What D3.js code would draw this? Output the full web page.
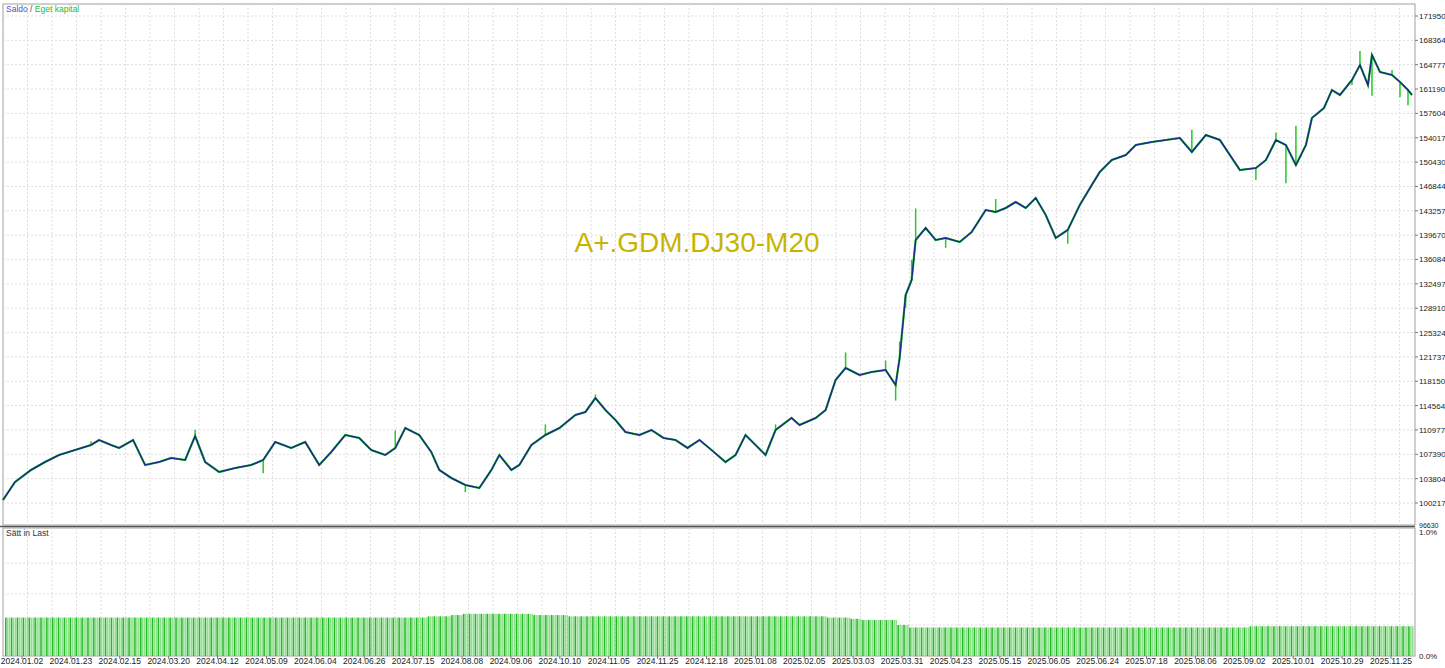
<!DOCTYPE html>
<html><head><meta charset="utf-8">
<script src="https://cdn.jsdelivr.net/npm/d3@7"></script>
<style>body{margin:0;background:#fff}svg{display:block;font-family:"Liberation Sans",Arial,sans-serif}</style>
</head><body><svg id="c" width="1445" height="668"></svg>
<script>
// trading day of each sampled balance point
const tradingDay=[0,6,14,21,28,36,44,48,54,58,65,71,78,84,91,96,101,108,116,124,130,136,144,151,158,164,171,178,184,191,196,201,208,214,218,224,231,238,244,248,254,258,264,271,278,286,291,296,301,306,311,318,324,330,336,342,348,354,361,366,371,376,381,386,394,398,406,411,416,421,428,434,441,446,448,451,454,456,461,466,471,478,484,491,496,501,506,511,516,521,526,532,538,544,548,554,561,566,574,581,588,594,601,608,614,618,626,631,636,641,646,651,654,660,664,668,674,678,682,684,688,694,698,702,704];
const balance=[100659,103310,105078,106256,107287,108024,108760,109497,108760,108319,109497,105814,106256,106846,106551,110086,106256,104783,105373,105814,106551,109202,108319,109202,105814,107729,110233,109792,108024,107287,108319,111265,110233,107729,105078,103900,102868,102427,105078,107287,105078,105814,108760,110233,111265,113179,113621,115684,113916,112443,110675,110233,110970,109792,109497,108319,109497,108024,106256,107287,110233,108760,107287,110970,112738,111706,112738,113916,118335,120103,119071,119513,119808,117598,121576,130855,133065,138957,140725,138957,139252,138662,140135,143376,143081,143671,144554,143671,145144,142639,139252,140430,144112,147058,148973,150741,151477,152950,153393,153687,153982,151919,154423,153687,151036,149266,149563,150741,153687,152950,149984,152950,156928,158401,161052,160315,162525,164733,161788,166207,163704,163262,162231,161052,160315];
// equity excursions: [index into balance, equity value]
const equitySpikes=[[6,109300],[15,111000],[20,104600],[30,110900],[36,101800],[43,111800],[47,116200],[63,111800],[69,122400],[72,121200],[73,115300],[74,124000],[75,129000],[76,136000],[77,143600],[80,137800],[84,145000],[91,138400],[101,155200],[106,147800],[108,154800],[109,147300],[110,155800],[116,161800],[117,166800],[119,160200],[121,164000],[122,160000],[123,158800]];
const marginLoad=[0.31,0.31,0.31,0.31,0.31,0.31,0.31,0.31,0.31,0.31,0.31,0.31,0.31,0.31,0.31,0.31,0.31,0.31,0.31,0.31,0.31,0.31,0.31,0.31,0.31,0.31,0.31,0.31,0.31,0.31,0.31,0.31,0.31,0.31,0.31,0.31,0.32,0.32,0.33,0.34,0.34,0.34,0.34,0.34,0.34,0.33,0.33,0.33,0.32,0.32,0.32,0.32,0.32,0.32,0.32,0.32,0.32,0.32,0.32,0.32,0.32,0.32,0.32,0.32,0.32,0.32,0.32,0.32,0.32,0.32,0.31,0.31,0.30,0.29,0.29,0.29,0.25,0.23,0.23,0.23,0.23,0.23,0.23,0.23,0.23,0.23,0.23,0.23,0.23,0.23,0.23,0.23,0.23,0.23,0.23,0.23,0.23,0.23,0.23,0.23,0.23,0.23,0.23,0.23,0.23,0.23,0.24,0.24,0.24,0.24,0.24,0.24,0.24,0.24,0.24,0.24,0.24,0.24,0.24,0.24];
const yTicks=[171950,168364,164777,161190,157604,154017,150430,146844,143257,139670,136084,132497,128910,125324,121737,118150,114564,110977,107390,103804,100217,96630];
const dateLabels=["2024.01.02","2024.01.23","2024.02.15","2024.03.20","2024.04.12","2024.05.09","2024.06.04","2024.06.26","2024.07.15","2024.08.08","2024.09.06","2024.10.10","2024.11.05","2024.11.25","2024.12.18","2025.01.08","2025.02.05","2025.03.03","2025.03.31","2025.04.23","2025.05.15","2025.06.05","2025.06.24","2025.07.18","2025.08.06","2025.09.02","2025.10.01","2025.10.29","2025.11.25"];

const svg=d3.select("#c");
const L=3,R=1415,T=4,B=525,B2T=528,B2B=656;
const x=d3.scaleLinear().domain([0,704]).range([L,1412]);
const y=d3.scaleLinear().domain([100217,171950]).range([503,16]);
const y2=d3.scaleLinear().domain([0,1]).range([656,532]);
const xl=d3.scalePoint().domain(dateLabels).range([22,1391]);
const xb=d3.scaleBand().domain(d3.range(marginLoad.length*6)).range([L+2,1414]);

svg.append("rect").attr("x",L).attr("y",T).attr("width",R-L).attr("height",B-T).attr("fill","#fff").attr("stroke","#a0a0a0");
svg.append("rect").attr("x",L).attr("y",B2T).attr("width",R-L).attr("height",B2B-B2T).attr("fill","#fff").attr("stroke","#a0a0a0");

const gx=d3.range(L+24.5,R,24.5);
const grid=svg.append("g").attr("stroke","#dedede").attr("stroke-dasharray","2,2");
gx.forEach(v=>{grid.append("line").attr("x1",v).attr("x2",v).attr("y1",T).attr("y2",B);
  grid.append("line").attr("x1",v).attr("x2",v).attr("y1",B2T).attr("y2",B2B);});
yTicks.forEach(t=>{const yy=y(t); if(yy>T&&yy<B) grid.append("line").attr("x1",L).attr("x2",R).attr("y1",yy).attr("y2",yy);});
[0.25,0.5,0.75].forEach(t=>grid.append("line").attr("x1",L).attr("x2",R).attr("y1",y2(t)).attr("y2",y2(t)));
svg.append("line").attr("x1",0).attr("x2",R).attr("y1",526.5).attr("y2",526.5).attr("stroke","#555").attr("stroke-width",1.5);

const ya=svg.append("g").attr("font-size",8).attr("fill","#222");
yTicks.forEach((t,i)=>{const yy=y(t); const last=i===yTicks.length-1;
  if(!last) svg.append("line").attr("x1",R).attr("x2",R+3).attr("y1",yy).attr("y2",yy).attr("stroke","#777");
  ya.append("text").attr("x",1419).attr("y",last?yy+1:yy+3).attr("font-size",last?7:8).text(t);});
ya.append("text").attr("x",1419).attr("y",535).text("1.0%");
ya.append("text").attr("x",1419).attr("y",659).text("0.0%");

const xa=svg.append("g").attr("font-size",8.5).attr("fill","#222").attr("text-anchor","middle");
dateLabels.forEach(d=>{xa.append("text").attr("x",xl(d)).attr("y",664).text(d);
 svg.append("line").attr("x1",xl(d)).attr("x2",xl(d)).attr("y1",B2B).attr("y2",B2B+3).attr("stroke","#777");});

const bars=svg.append("g");
marginLoad.forEach((m,i)=>{for(let k=0;k<6;k++){const j=i*6+k;
  bars.append("rect").attr("x",xb(j)).attr("y",y2(m)).attr("width",xb.bandwidth()*0.8).attr("height",y2(0)-y2(m))
   .attr("fill",(j%3===0)?"#22bb22":"#8ee08e");}});

svg.append("text").attr("x",697).attr("y",252).attr("text-anchor","middle").attr("font-size",28).attr("fill","#c8b400").text("A+.GDM.DJ30-M20");

const eq=svg.append("g").attr("stroke","#22cc22").attr("stroke-width",1.5);
equitySpikes.forEach(([i,v])=>eq.append("line").attr("x1",x(tradingDay[i])).attr("x2",x(tradingDay[i])).attr("y1",y(balance[i])).attr("y2",y(v)));
const line=d3.line().x((d,i)=>x(tradingDay[i])).y(d=>y(d));
svg.append("path").datum(balance).attr("fill","none").attr("stroke","#22cc22").attr("stroke-width",2.2).attr("d",line);
svg.append("path").datum(balance).attr("fill","none").attr("stroke","#1c2a8c").attr("stroke-width",1.5).attr("d",line);

const lg=svg.append("text").attr("x",6).attr("y",12).attr("font-size",8.5);
lg.append("tspan").attr("fill","#5050d0").text("Saldo");
lg.append("tspan").attr("fill","#444").text(" / ");
lg.append("tspan").attr("fill","#22c022").text("Eget kapital");
svg.append("text").attr("x",6).attr("y",536).attr("font-size",8.5).attr("fill","#333").text("Sätt in Last");
</script></body></html>
